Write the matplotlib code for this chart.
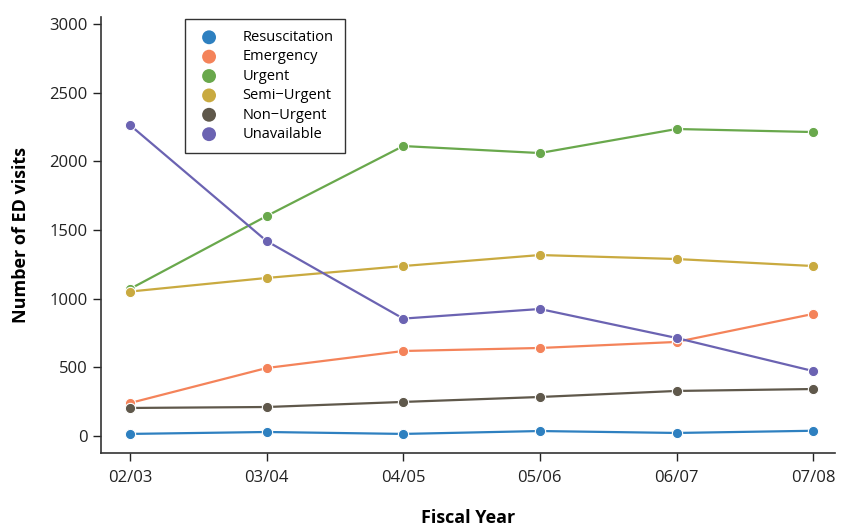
import matplotlib.pyplot as plt

plt.rcParams['font.family'] = ['Open Sans', 'DejaVu Sans']

years = ['02/03', '03/04', '04/05', '05/06', '06/07', '07/08']

resuscitation = [15, 29, 15, 36, 22, 38]
emergency = [240, 495, 619, 641, 685, 889]
urgent = [1071, 1602, 2112, 2061, 2236, 2214]
semi_urgent = [1052, 1151, 1238, 1318, 1289, 1238]
non_urgent = [204, 211, 248, 284, 328, 342]
unavailable = [2265, 1420, 855, 925, 714, 473]

series = [
	('Resuscitation', resuscitation, '#2e80c0'),
	('Emergency', emergency, '#f4835a'),
	('Urgent', urgent, '#69a84c'),
	('Semi\u2212Urgent', semi_urgent, '#c9aa40'),
	('Non\u2212Urgent', non_urgent, '#5f584b'),
	('Unavailable', unavailable, '#6b63b2'),
]

fig = plt.figure(figsize=(8.45, 5.29), dpi=100)
ax = fig.add_axes([101 / 845, 1 - 453 / 529, 734 / 845, 436 / 529])

x = list(range(len(years)))
for name, vals, color in series:
	ax.plot(x, vals, color=color, lw=1.6, zorder=2)
	ax.scatter(x, vals, s=55, color=color, edgecolor='white', linewidth=0.8, zorder=3)
	ax.scatter([], [], s=100, color=color, edgecolor='none', label=name)

ax.set_xlim(-0.212, 5.16)
ax.set_ylim(-124, 3052)
ax.set_xticks(x)
ax.set_xticklabels(years)
ax.set_yticks(range(0, 3001, 500))

for side in ['top', 'right']:
	ax.spines[side].set_visible(False)
for side in ['left', 'bottom']:
	ax.spines[side].set_linewidth(1.2)
	ax.spines[side].set_color('#333333')

ax.tick_params(direction='out', length=6, width=1, labelsize=12, colors='#222222')
ax.tick_params(axis='x', pad=6)

ax.set_xlabel('Fiscal Year', fontsize=13, fontweight='bold', labelpad=17)
ax.set_ylabel('Number of ED visits', fontsize=13, fontweight='bold', labelpad=14)

leg = ax.legend(loc='upper left', bbox_to_anchor=(84 / 734, 0.995), fontsize=10.5,
	frameon=True, fancybox=False, edgecolor='black', handletextpad=1.4,
	borderpad=0.75, labelspacing=0.3, handlelength=1.8, borderaxespad=0)
leg.get_frame().set_linewidth(1)

plt.savefig('out.png', dpi=100)
